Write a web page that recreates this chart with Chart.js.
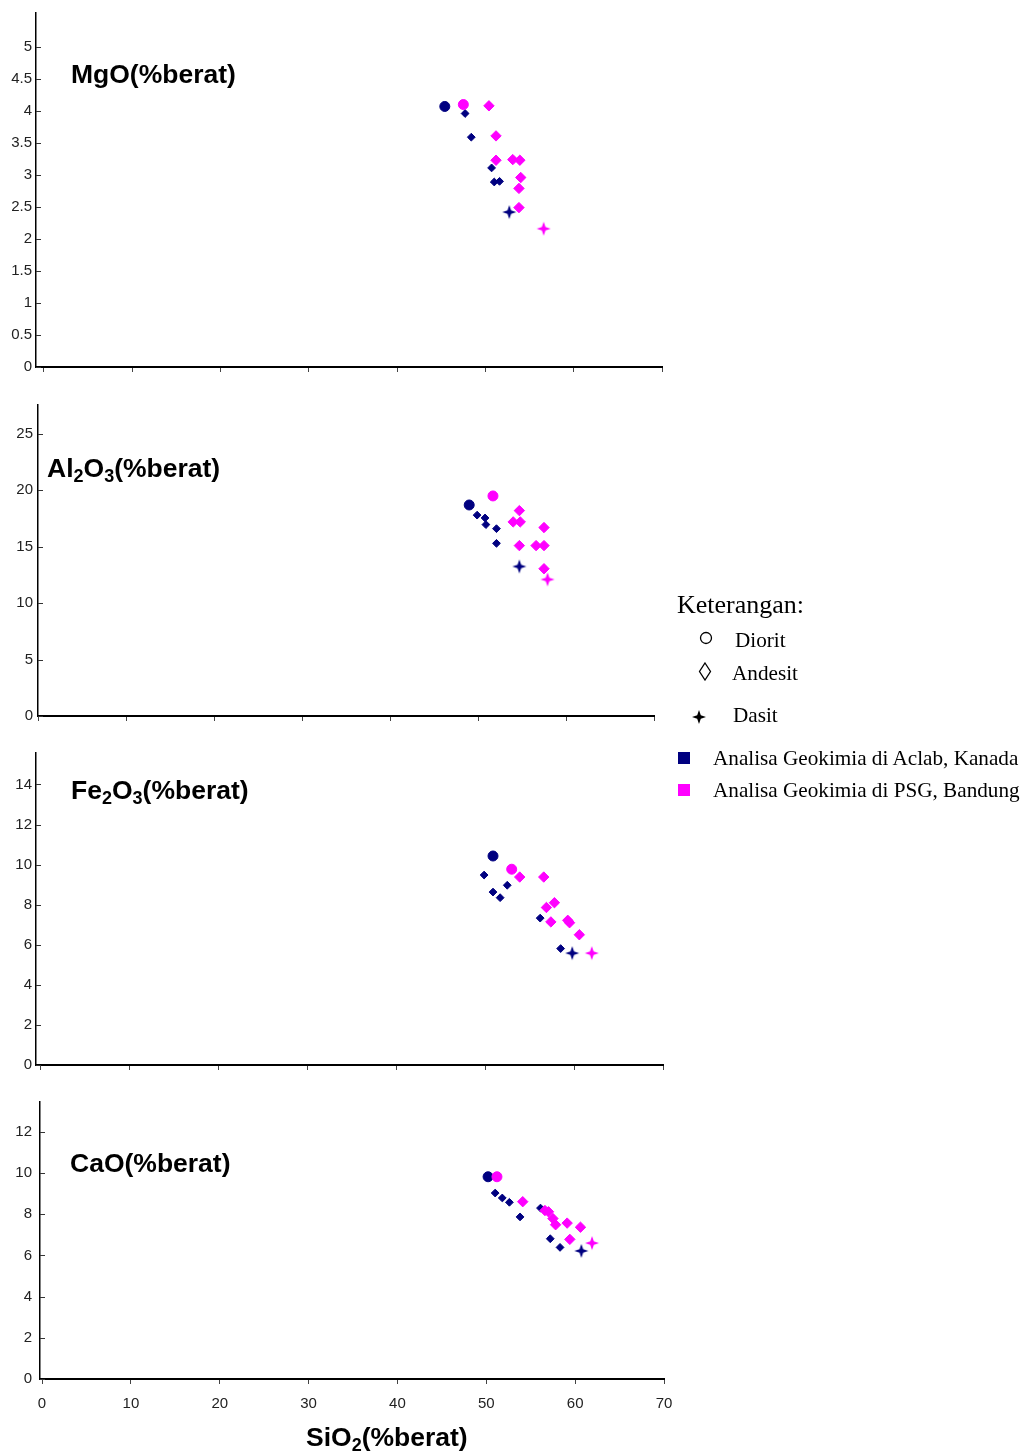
<!DOCTYPE html>
<html>
<head>
<meta charset="utf-8">
<script src="https://cdn.jsdelivr.net/npm/chart.js@4.4.0/dist/chart.umd.min.js"></script>
<style>
  body { margin: 0; background: #fff; }
  .page { position: relative; width: 1025px; height: 1453px; overflow: hidden; font-family: 'Liberation Sans', Arial, sans-serif; }
  .page canvas { position: absolute; left: 0; }
  .tit { position: absolute; font-weight: bold; font-size: 26.5px; line-height: 28px; white-space: nowrap; color: #000; }
  .tit sub { font-size: 18px; vertical-align: -5px; line-height: 0; }
  .lg { position: absolute; font-family: 'Liberation Serif', 'Times New Roman', serif; font-size: 21.2px; line-height: 24px; white-space: nowrap; color: #000; }
  .sym { position: absolute; }
</style>
</head>
<body>
<div class="page">
  <canvas id="chartMgo" width="680" height="380" style="top:0px"></canvas>
  <canvas id="chartAl" width="680" height="340" style="top:390px"></canvas>
  <canvas id="chartFe" width="680" height="340" style="top:740px"></canvas>
  <canvas id="chartCa" width="680" height="368" style="top:1085px"></canvas>

  <!-- judul tiap grafik -->
  <div class="tit" style="left:71px; top:60px">MgO(%berat)</div>
  <div class="tit" style="left:47px; top:454px">Al<sub>2</sub>O<sub>3</sub>(%berat)</div>
  <div class="tit" style="left:71px; top:776px">Fe<sub>2</sub>O<sub>3</sub>(%berat)</div>
  <div class="tit" style="left:70px; top:1149px">CaO(%berat)</div>
  <div class="tit" style="left:306px; top:1423px">SiO<sub>2</sub>(%berat)</div>

  <!-- keterangan -->
  <div class="lg" style="left:677px; top:590px; font-size:26px; line-height:30px">Keterangan:</div>
  <svg class="sym" style="left:699px; top:631px" width="14" height="14"><circle cx="7" cy="7" r="5.5" fill="none" stroke="#000" stroke-width="1.3"/></svg>
  <div class="lg" style="left:735px; top:628px">Diorit</div>
  <svg class="sym" style="left:698px; top:662px" width="14" height="19"><polygon points="7,1 12.5,9.5 7,18 1.5,9.5" fill="none" stroke="#000" stroke-width="1.3"/></svg>
  <div class="lg" style="left:732px; top:661px">Andesit</div>
  <svg class="sym" style="left:691px; top:709px" width="16" height="16"><polygon points="8,1 9.8,6.2 15,8 9.8,9.8 8,15 6.2,9.8 1,8 6.2,6.2" fill="#000"/></svg>
  <div class="lg" style="left:733px; top:703px">Dasit</div>
  <svg class="sym" style="left:678px; top:752px" width="12" height="12"><rect x="0" y="0" width="12" height="12" fill="#000080"/></svg>
  <div class="lg" style="left:713px; top:746px">Analisa Geokimia di Aclab, Kanada</div>
  <svg class="sym" style="left:678px; top:784px" width="12" height="12"><rect x="0" y="0" width="12" height="12" fill="#ff00ff"/></svg>
  <div class="lg" style="left:713px; top:778px">Analisa Geokimia di PSG, Bandung</div>
</div>

<script>
  // data [SiO2, oksida]
  const xTicks = [0, 10, 20, 30, 40, 50, 60, 70];

  // MgO
  const mgoTicks = [0, 0.5, 1, 1.5, 2, 2.5, 3, 3.5, 4, 4.5, 5];
  const mgoDioritAclab = [[45.4, 4.07]];
  const mgoDioritPsg = [[47.5, 4.10]];
  const mgoAndesitAclab = [[47.7, 3.96], [48.4, 3.59], [50.7, 3.11], [51.0, 2.89], [51.6, 2.90]];
  const mgoAndesitPsg = [[50.4, 4.08], [51.2, 3.61], [51.2, 3.23], [53.1, 3.24], [53.9, 3.23], [54.0, 2.96], [53.8, 2.79], [53.8, 2.49]];
  const mgoDasitAclab = [[52.7, 2.42]];
  const mgoDasitPsg = [[56.6, 2.16]];

  // Al2O3
  const alTicks = [0, 5, 10, 15, 20, 25];
  const alDioritAclab = [[49.0, 18.7]];
  const alDioritPsg = [[51.7, 19.5]];
  const alAndesitAclab = [[49.9, 17.8], [50.8, 17.55], [50.9, 16.96], [52.1, 16.6], [52.1, 15.3]];
  const alAndesitPsg = [[54.7, 18.2], [54.0, 17.2], [54.8, 17.2], [57.5, 16.7], [54.7, 15.1], [56.6, 15.1], [57.5, 15.1], [57.5, 13.05]];
  const alDasitAclab = [[54.7, 13.25]];
  const alDasitPsg = [[57.9, 12.1]];

  // Fe2O3
  const feTicks = [0, 2, 4, 6, 8, 10, 12, 14];
  const feDioritAclab = [[50.9, 10.43]];
  const feDioritPsg = [[53.0, 9.77]];
  const feAndesitAclab = [[49.9, 9.48], [52.5, 8.97], [50.9, 8.63], [51.7, 8.35], [56.2, 7.33], [58.5, 5.81]];
  const feAndesitPsg = [[53.9, 9.38], [56.6, 9.38], [57.8, 8.10], [56.9, 7.86], [57.4, 7.14], [59.3, 7.22], [59.5, 7.10], [60.6, 6.50]];
  const feDasitAclab = [[59.8, 5.58]];
  const feDasitPsg = [[62.0, 5.58]];

  // CaO
  const caTicks = [0, 2, 4, 6, 8, 10, 12];
  const caDioritAclab = [[50.2, 9.82]];
  const caDioritPsg = [[51.2, 9.82]];
  const caAndesitAclab = [[51.0, 9.03], [51.8, 8.79], [52.6, 8.58], [53.8, 7.87], [56.1, 8.30], [57.2, 6.81], [58.3, 6.39]];
  const caAndesitPsg = [[54.1, 8.61], [56.6, 8.18], [57.0, 8.12], [57.5, 7.79], [57.8, 7.49], [59.1, 7.57], [60.6, 7.37], [59.4, 6.78]];
  const caDasitAclab = [[60.7, 6.22]];
  const caDasitPsg = [[61.9, 6.60]];

  const NAVY = '#000080';
  const PINK = '#ff00ff';

  // bintang 4 sudut untuk Dasit
  function starImg(color, r) {
    var c = document.createElement('canvas');
    var s = r * 2 + 2;
    c.width = s; c.height = s;
    var g = c.getContext('2d');
    var m = s / 2, k = r * 0.26;
    g.beginPath();
    g.moveTo(m, m - r); g.lineTo(m + k, m - k); g.lineTo(m + r, m); g.lineTo(m + k, m + k);
    g.lineTo(m, m + r); g.lineTo(m - k, m + k); g.lineTo(m - r, m); g.lineTo(m - k, m - k);
    g.closePath();
    g.fillStyle = color;
    g.fill();
    return c;
  }
  var starNavy = starImg(NAVY, 7);
  var starPink = starImg(PINK, 7);

  function pts(arr) {
    return arr.map(function (p) { return { x: p[0], y: p[1] }; });
  }

  function ds(arr, color, style, r) {
    return {
      data: pts(arr),
      pointStyle: style,
      pointRadius: r,
      pointBackgroundColor: color,
      pointBorderColor: color,
      pointBorderWidth: 1,
      showLine: false
    };
  }

  // tick kecil di dalam sumbu y
  var innerTicks = {
    id: 'innerTicks',
    afterDraw: function (chart) {
      var y = chart.scales.y, a = chart.chartArea, g = chart.ctx;
      g.save();
      g.strokeStyle = '#333';
      g.lineWidth = 1;
      y.ticks.forEach(function (t) {
        var py = Math.round(y.getPixelForValue(t.value)) + 0.5;
        g.beginPath();
        g.moveTo(a.left, py);
        g.lineTo(a.left + 5, py);
        g.stroke();
      });
      g.restore();
    }
  };

  function createPanel(id, p) {
    var datasets = [
      ds(p.dioritPsg, PINK, 'circle', 5),
      ds(p.andesitPsg, PINK, 'rectRot', 5.2),
      ds(p.dasitPsg, PINK, starPink, 7),
      ds(p.dioritAclab, NAVY, 'circle', 5),
      ds(p.andesitAclab, NAVY, 'rectRot', 3.9),
      ds(p.dasitAclab, NAVY, starNavy, 7)
    ];
    return new Chart(document.getElementById(id).getContext('2d'), {
      type: 'scatter',
      data: { datasets: datasets },
      options: {
        responsive: false,
        animation: false,
        layout: { padding: { top: p.top, right: p.right, left: 0, bottom: 0 } },
        plugins: { legend: { display: false }, tooltip: { enabled: false } },
        scales: {
          x: {
            type: 'linear',
            min: p.xmin,
            max: 70,
            afterBuildTicks: function (s) { s.ticks = xTicks.map(function (v) { return { value: v }; }); },
            afterFit: function (s) {
              s.height = p.xh;
              s.paddingLeft = 0;
              s.paddingRight = 0;
            },
            grid: { display: true, drawOnChartArea: false, drawTicks: true, tickLength: 5, color: '#444' },
            border: { display: true, color: '#000', width: 2 },
            ticks: {
              display: p.showX,
              padding: 11,
              maxRotation: 0,
              color: '#222',
              font: { family: "'Liberation Sans', Arial, sans-serif", size: 15 },
              callback: function (v) { return String(v); }
            }
          },
          y: {
            type: 'linear',
            min: 0,
            max: p.ymax,
            afterBuildTicks: function (s) { s.ticks = p.yTicks.map(function (v) { return { value: v }; }); },
            afterFit: function (s) { s.width = p.left; },
            grid: { display: true, drawOnChartArea: false, drawTicks: false },
            border: { display: true, color: '#000', width: 1.5 },
            ticks: {
              padding: p.ypad,
              color: '#222',
              font: { family: "'Liberation Sans', Arial, sans-serif", size: 15 },
              callback: function (v) { return String(v); }
            }
          }
        }
      },
      plugins: [innerTicks]
    });
  }

  createPanel('chartMgo', {
    top: 10, right: 18, left: 36, xh: 13, xmin: -0.9, ymax: 5.53, yTicks: mgoTicks, showX: false, ypad: 4,
    dioritAclab: mgoDioritAclab, dioritPsg: mgoDioritPsg, andesitAclab: mgoAndesitAclab,
    andesitPsg: mgoAndesitPsg, dasitAclab: mgoDasitAclab, dasitPsg: mgoDasitPsg
  });
  createPanel('chartAl', {
    top: 15, right: 26, left: 38, xh: 13, xmin: 0, ymax: 27.56, yTicks: alTicks, showX: false, ypad: 5,
    dioritAclab: alDioritAclab, dioritPsg: alDioritPsg, andesitAclab: alAndesitAclab,
    andesitPsg: alAndesitPsg, dasitAclab: alDasitAclab, dasitPsg: alDasitPsg
  });
  createPanel('chartFe', {
    top: 8, right: 17, left: 36, xh: 15, xmin: -0.45, ymax: 15.57, yTicks: feTicks, showX: false, ypad: 4,
    dioritAclab: feDioritAclab, dioritPsg: feDioritPsg, andesitAclab: feAndesitAclab,
    andesitPsg: feAndesitPsg, dasitAclab: feDasitAclab, dasitPsg: feDasitPsg
  });
  createPanel('chartCa', {
    top: 15, right: 16, left: 40, xh: 74, xmin: -0.23, ymax: 13.45, yTicks: caTicks, showX: true, ypad: 8,
    dioritAclab: caDioritAclab, dioritPsg: caDioritPsg, andesitAclab: caAndesitAclab,
    andesitPsg: caAndesitPsg, dasitAclab: caDasitAclab, dasitPsg: caDasitPsg
  });
</script>
</body>
</html>
